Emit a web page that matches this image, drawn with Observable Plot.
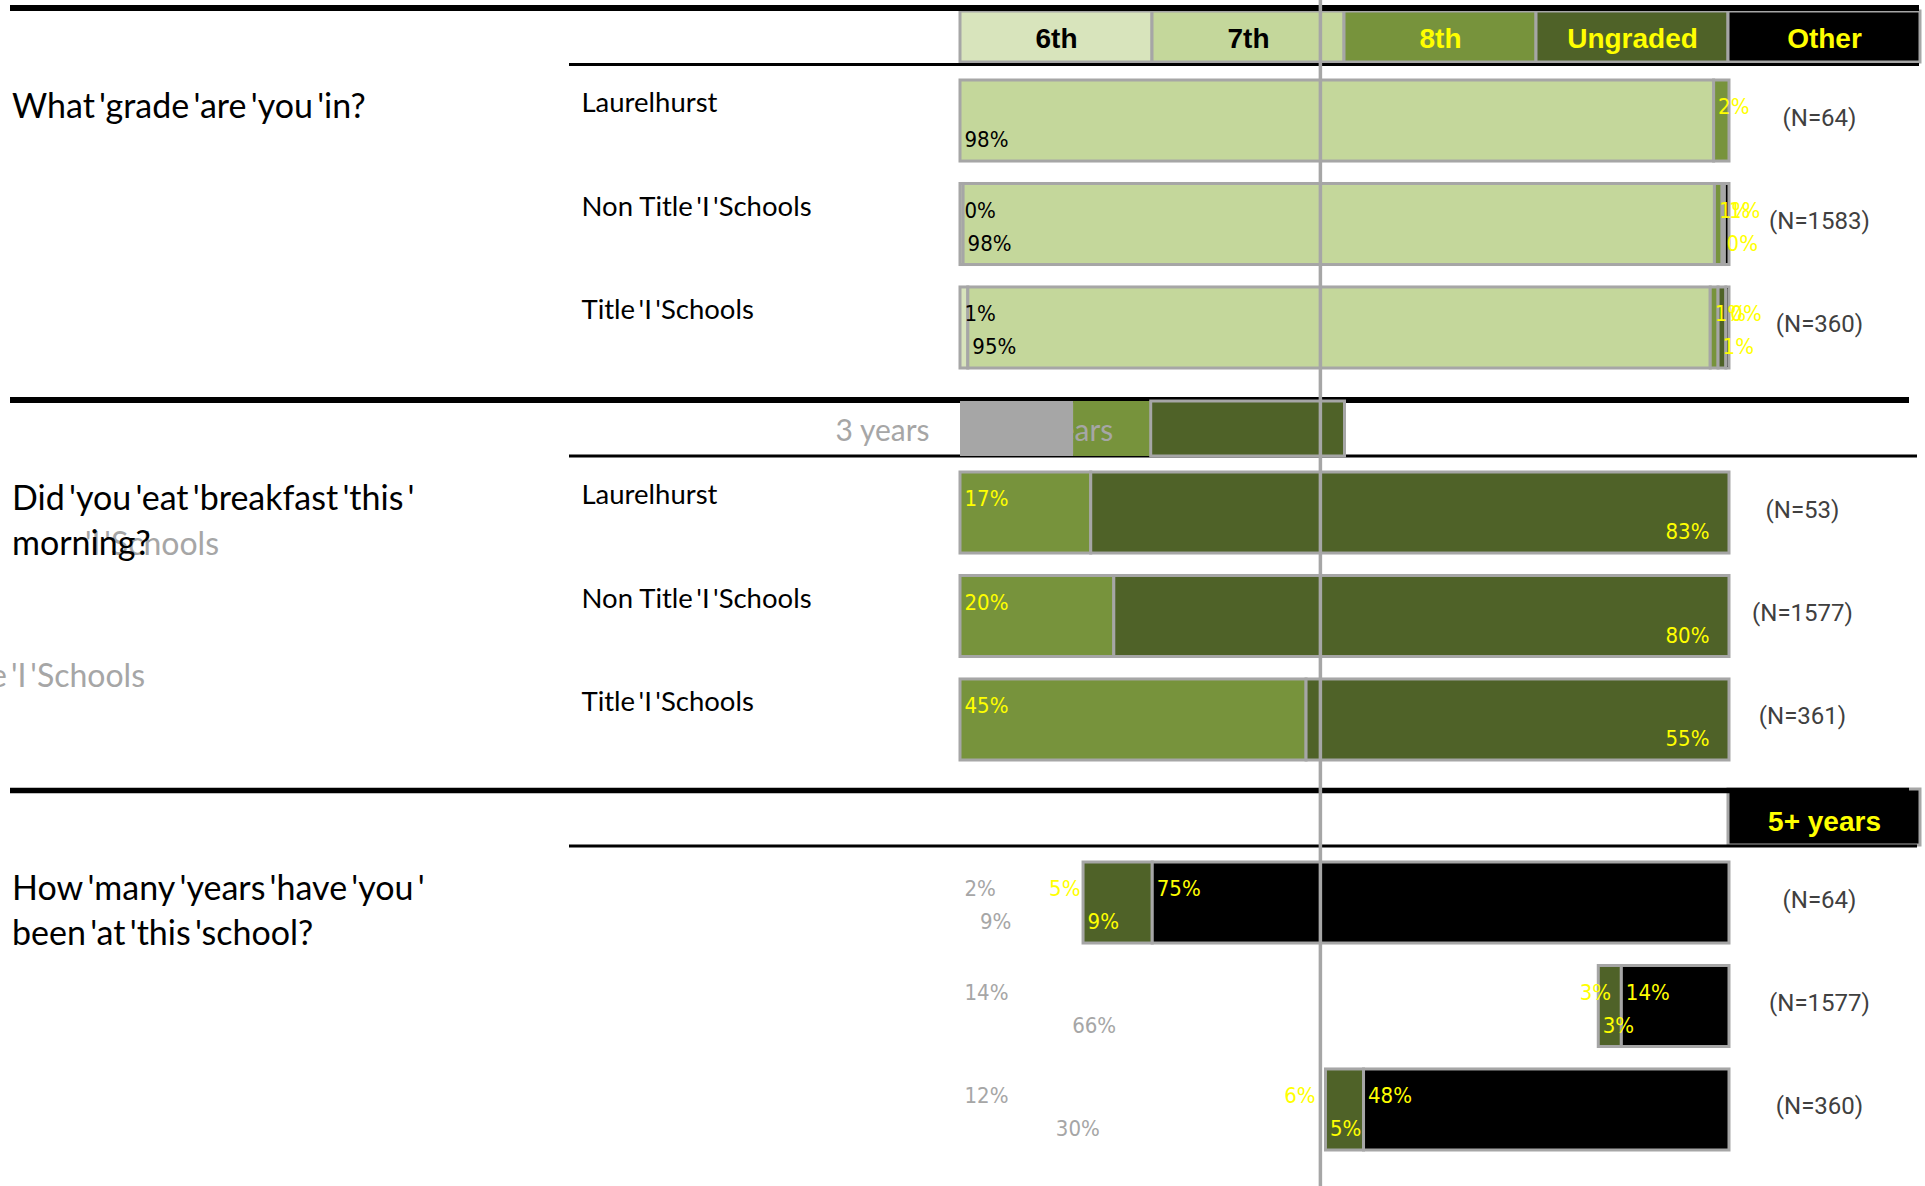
<!DOCTYPE html>
<html><head><meta charset="utf-8">
<script src="https://cdn.jsdelivr.net/npm/d3@7"></script>
<script src="https://cdn.jsdelivr.net/npm/@observablehq/plot@0.6"></script>
<style>
html,body{margin:0;padding:0;background:#fff;}
#chart{position:relative;width:1925px;height:1186px;overflow:hidden;background:#fff;}
#chart svg{position:absolute;left:0;}
</style></head><body><div id="chart"></div>
<script>
// ---------- data ----------
const groups = ["Laurelhurst", "Non Title I Schools", "Title I Schools"];
const groupLabels = ["Laurelhurst", "Non Title\u2009'I\u2009'Schools", "Title\u2009'I\u2009'Schools"];

const questions = [
  ["What\u2009'grade\u2009'are\u2009'you\u2009'in?"],
  ["Did\u2009'you\u2009'eat\u2009'breakfast\u2009'this\u2009'", "morning?"],
  ["How\u2009'many\u2009'years\u2009'have\u2009'you\u2009'", "been\u2009'at\u2009'this\u2009'school?"]
];

const grades = ["6th", "7th", "8th", "Ungraded", "Other"];
const gradeValues = [
  [null, 98, 2, null, null],
  [0.4, 98, 1, 0.3, 0.6],
  [1, 95, 1, 1, 0.4]
];
const gradeN = [64, 1583, 360];

const breakfast = ["Yes", "No"];
const breakfastValues = [[17, 83], [20, 80], [45, 55]];
const breakfastN = [53, 1577, 361];
const staleLegendShares = [14.7, 10.1, 25.2];
const staleLegendLabels = ["3 years", "4 years"];

const years = ["Less than 1 year", "1 year", "2 years", "3-4 years", "5+ years"];
const yearsValues = [
  [2, 9, 5, 9, 75],
  [14, 66, 3, 3, 14],
  [12, 30, 6, 5, 48]
];
const yearsN = [64, 1577, 360];

const referenceShare = [0.468];
const strayLabels = ["'I\u2009'Schools", "Title\u2009'I\u2009'Schools"];

// ---------- styles ----------
const gradeFill = ["#d8e4bc", "#c4d79b", "#77933c", "#4f6228", "#000000"];
const gradeText = ["#000000", "#000000", "#ffff00", "#ffff00", "#ffff00"];
const breakfastFill = ["#77933c", "#4f6228"];
const breakfastText = ["#ffff00", "#ffff00"];
const yearsFill = ["#ffffff", "#ffffff", "#ffffff", "#4f6228", "#000000"];
const yearsStroke = ["none", "none", "none", "#a6a6a6", "#a6a6a6"];
const yearsText = ["#a6a6a6", "#a6a6a6", "#ffff00", "#ffff00", "#ffff00"];
const yearsHeadFill = ["none", "none", "none", "none", "#000000"];
const yearsHeadStroke = ["none", "none", "none", "none", "#a6a6a6"];
const yearsHeadText = ["none", "none", "none", "none", "#ffff00"];
const staleFill = ["#a6a6a6", "#77933c", "#4f6228"];
const staleStroke = ["none", "none", "#a6a6a6"];

const GREY = "#a6a6a6";
const pctFont = '"Liberation Sans Narrow","DejaVu Sans Condensed",sans-serif';
const labelFont = 'Lato,"Open Sans",sans-serif';
const nFont = 'Roboto,"Open Sans",sans-serif';
const headFont = '"Liberation Sans",Arial,sans-serif';

const W = 1925, H = 1186;
const barLeft = 960, barRight = 1729;
const root = document.getElementById("chart");
function place(node, top) { node.style.top = top + "px"; node.style.left = "0px"; root.appendChild(node); }
const fmt = v => Math.round(v) + "%";

function records(cats, values) {
  const out = [];
  groups.forEach((g, gi) => cats.forEach((c, ci) => {
    const v = values[gi][ci];
    if (v != null) out.push({group: g, cat: c, idx: ci, value: v});
  }));
  return out;
}

function sectionPlot(cfg) {
  const recs = records(cfg.cats, cfg.values);
  const st = {x: "value", y: "group", z: "cat", order: cfg.cats, offset: "normalize"};
  const pct = {fontFamily: pctFont, fontSize: 22, lineAnchor: "bottom"};
  const marks = [
    Plot.barX(recs, Plot.stackX({...st, fill: d => cfg.fills[d.idx], stroke: d => cfg.strokes[d.idx], strokeWidth: 3})),
    Plot.text(recs, Plot.stackX1({...st, ...pct, text: d => d.idx % 2 === 0 ? fmt(d.value) : "",
      fill: d => cfg.textFills[d.idx], textAnchor: "start", dx: 4, dy: -7})),
    cfg.secondAtEnd
      ? Plot.text(recs, Plot.stackX2({...st, ...pct, text: d => d.idx % 2 === 1 ? fmt(d.value) : "",
          fill: d => cfg.textFills[d.idx], textAnchor: "end", dx: -20, dy: 26}))
      : Plot.text(recs, Plot.stackX1({...st, ...pct, text: d => d.idx % 2 === 1 ? fmt(d.value) : "",
          fill: d => cfg.textFills[d.idx], textAnchor: "start", dx: 4, dy: 26})),
    Plot.text(cfg.ns.map((n, i) => ({group: groups[i], n})), {
      y: "group", text: d => `(N=${d.n})`, frameAnchor: "right", dx: cfg.nDx,
      textAnchor: "middle", lineAnchor: "bottom", dy: 4.5, fill: "#404040", fontFamily: nFont, fontSize: 24})
  ];
  if (cfg.showGroups) marks.push(Plot.text(groups.map((g, i) => ({group: g, label: groupLabels[i]})), {
    y: "group", text: "label", frameAnchor: "left", dx: 581 - barLeft, textAnchor: "start",
    lineAnchor: "bottom", dy: -9, fill: "#000", fontFamily: labelFont, fontSize: 27.5}));
  return Plot.plot({
    width: W, height: cfg.height, marginLeft: barLeft, marginRight: W - barRight, marginTop: 0, marginBottom: 0,
    x: {domain: [0, 1], axis: null},
    y: {domain: groups, range: cfg.range, paddingInner: 0.217, paddingOuter: 0, round: false, axis: null},
    color: {type: "identity"},
    style: {background: "none", overflow: "visible"},
    marks
  });
}

// ---------- section plots ----------
place(sectionPlot({cats: grades, values: gradeValues, ns: gradeN, fills: gradeFill,
  strokes: grades.map(() => GREY), textFills: gradeText, height: 390, range: [80, 368], nDx: 90, showGroups: true}), 0);
place(sectionPlot({cats: breakfast, values: breakfastValues, ns: breakfastN, fills: breakfastFill,
  strokes: breakfast.map(() => GREY), textFills: breakfastText, height: 390, range: [82, 370], nDx: 73,
  showGroups: true, secondAtEnd: true}), 390);
place(sectionPlot({cats: years, values: yearsValues, ns: yearsN, fills: yearsFill,
  strokes: yearsStroke, textFills: yearsText, height: 406, range: [82, 370], nDx: 90, showGroups: false}), 780);

// ---------- headers ----------
function headerPlot(cats, fills, strokes, texts, height, marginTop, dy) {
  return Plot.plot({
    width: W, height, marginTop, marginBottom: 0, marginLeft: barLeft, marginRight: 5,
    x: {domain: cats, range: [960, 1920], padding: 0, axis: null},
    color: {type: "identity"}, style: {background: "none", overflow: "visible"},
    marks: [
      Plot.cell(cats, {x: d => d, fill: (d, i) => fills[i], stroke: (d, i) => strokes[i], strokeWidth: 3, inset: 0}),
      Plot.text(cats, {x: d => d, text: d => d, filter: (d, i) => texts[i] !== "none", frameAnchor: "bottom",
        lineAnchor: "bottom", dy, fill: (d, i) => texts[i], fontFamily: headFont, fontWeight: "bold", fontSize: 28})
    ]
  });
}
place(headerPlot(grades, gradeFill, grades.map(() => GREY), gradeText, 62, 11, -15), 0);
place(headerPlot(years, yearsHeadFill, yearsHeadStroke, yearsHeadText, 65, 9, -15), 780);

// ---------- rules & free text ----------
const deco = d3.create("svg").attr("width", W).attr("height", H);
const rules = [
  [10, 1919, 8, 6], [569, 1919, 64.5, 3],
  [10, 1909, 400, 6], [569, 1917, 456, 3],
  [10, 1909, 790.5, 5.5], [569, 1917, 846, 3]
];
deco.selectAll("line").data(rules).join("line")
  .attr("x1", d => d[0]).attr("x2", d => d[1]).attr("y1", d => d[2]).attr("y2", d => d[2])
  .attr("stroke", "#000").attr("stroke-width", d => d[3]);
const strayPos = [[219, 555], [145, 687]];
deco.selectAll("text.stray").data(strayLabels).join("text").attr("class", "stray")
  .attr("x", (d, i) => strayPos[i][0]).attr("y", (d, i) => strayPos[i][1]).attr("text-anchor", "end")
  .attr("fill", GREY).attr("font-family", labelFont).attr("font-size", 32).style("white-space", "pre").text(d => d);
const qBase = [[118], [510, 555], [900, 945]];
questions.forEach((lines, qi) => lines.forEach((line, li) => {
  deco.append("text").attr("x", 12).attr("y", qBase[qi][li]).attr("fill", "#000")
    .attr("font-family", labelFont).attr("font-size", 34).style("white-space", "pre").text(line);
}));
place(deco.node(), 0);

// ---------- stale legend over breakfast section ----------
const staleRecs = staleLegendShares.map((s, i) => ({share: s, idx: i}));
place(Plot.plot({
  width: W, height: 66, marginTop: 11, marginBottom: 0, marginLeft: barLeft, marginRight: W - barRight,
  x: {domain: [0, 100], axis: null}, color: {type: "identity"}, style: {background: "none", overflow: "visible"},
  marks: [
    Plot.barX(staleRecs, Plot.stackX({x: "share", z: "idx", fill: d => staleFill[d.idx], stroke: d => staleStroke[d.idx], strokeWidth: 3})),
    Plot.text([staleLegendLabels[1]], {x: staleLegendShares[0] + staleLegendShares[1], dx: -38, text: d => d, textAnchor: "end",
      frameAnchor: "bottom", lineAnchor: "bottom", dy: -16, fill: GREY, fontFamily: labelFont, fontSize: 30}),
    Plot.barX(staleRecs.slice(0, 1), Plot.stackX({x: "share", z: "idx", fill: d => staleFill[d.idx]})),
    Plot.text([staleLegendLabels[0]], {x: 0, dx: -31, text: d => d, textAnchor: "end",
      frameAnchor: "bottom", lineAnchor: "bottom", dy: -16, fill: GREY, fontFamily: labelFont, fontSize: 30})
  ]
}), 390);

// ---------- reference line on top ----------
place(Plot.plot({
  width: W, height: H, marginTop: 0, marginBottom: 0, marginLeft: barLeft, marginRight: W - barRight,
  x: {domain: [0, 1], axis: null}, style: {background: "none", overflow: "visible"},
  marks: [Plot.ruleX(referenceShare, {stroke: GREY, strokeWidth: 3.5})]
}), 0);
</script></body></html>
